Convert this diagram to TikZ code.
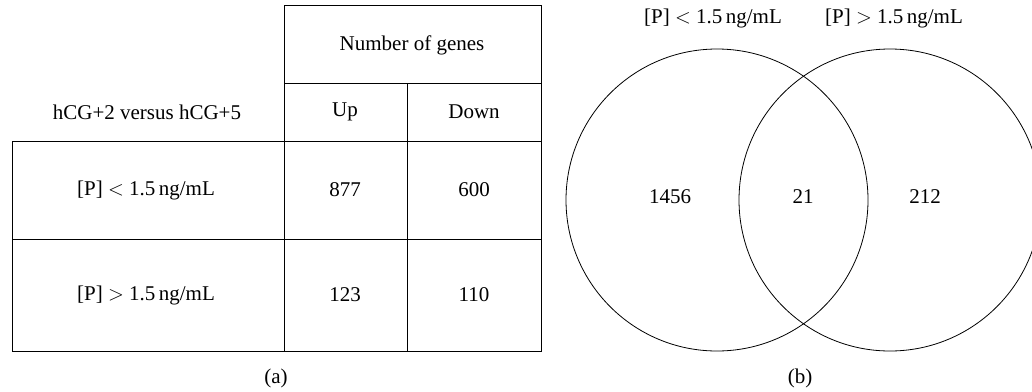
\documentclass[tikz,border=0pt]{standalone}
\usepackage{fontspec}
\setmainfont{Liberation Serif}

\begin{document}
\begin{tikzpicture}[x = 1pt, y = -1pt, line width = 1pt,
	cell/.style = {inner sep = 0pt, font = \fontsize{21}{24}\selectfont},
	set/.style = {circle, draw, line width = 0.8pt, minimum size = 302pt, inner sep = 0pt}]
	\useasboundingbox (0,0) rectangle (1032,391);
	% (a) table
	\draw
	(284,5) -- (541,5) -- (541,351) -- (12,351) -- (12,141) -- (541,141)
	(284,5) -- (284,351)
	(284,83) -- (541,83)
	(407,83) -- (407,351)
	(12,239) -- (541,239);
	\node[cell](HEAD) at (412,45){Number of genes};
	\node[cell](CMP) at (147,112){hCG+2 versus hCG+5};
	\node[cell](UP) at (345,112){Up};
	\node[cell](DOWN) at (474,112){Down};
	\node[cell](LOW) at (146,190){[P] $<$ 1.5\,ng/mL};
	\node[cell](LOWUP) at (345,190){877};
	\node[cell](LOWDN) at (474,190){600};
	\node[cell](HIGH) at (146,295){[P] $>$ 1.5\,ng/mL};
	\node[cell](HIGHUP) at (345,295){123};
	\node[cell](HIGHDN) at (474,295){110};
	\node[cell](CAPA) at (276,378){(a)};
	% (b) venn
	\node[set](LEFT) at (717,200){};
	\node[set](RIGHT) at (890,200){};
	\node[cell](LEFTL) at (713,18){[P] $<$ 1.5\,ng/mL};
	\node[cell](RIGHTL) at (894,18){[P] $>$ 1.5\,ng/mL};
	\node[cell](ONLYL) at (670,197){1456};
	\node[cell](BOTH) at (803,197){21};
	\node[cell](ONLYR) at (925,197){212};
	\node[cell](CAPB) at (800,378){(b)};
\end{tikzpicture}
\end{document}
